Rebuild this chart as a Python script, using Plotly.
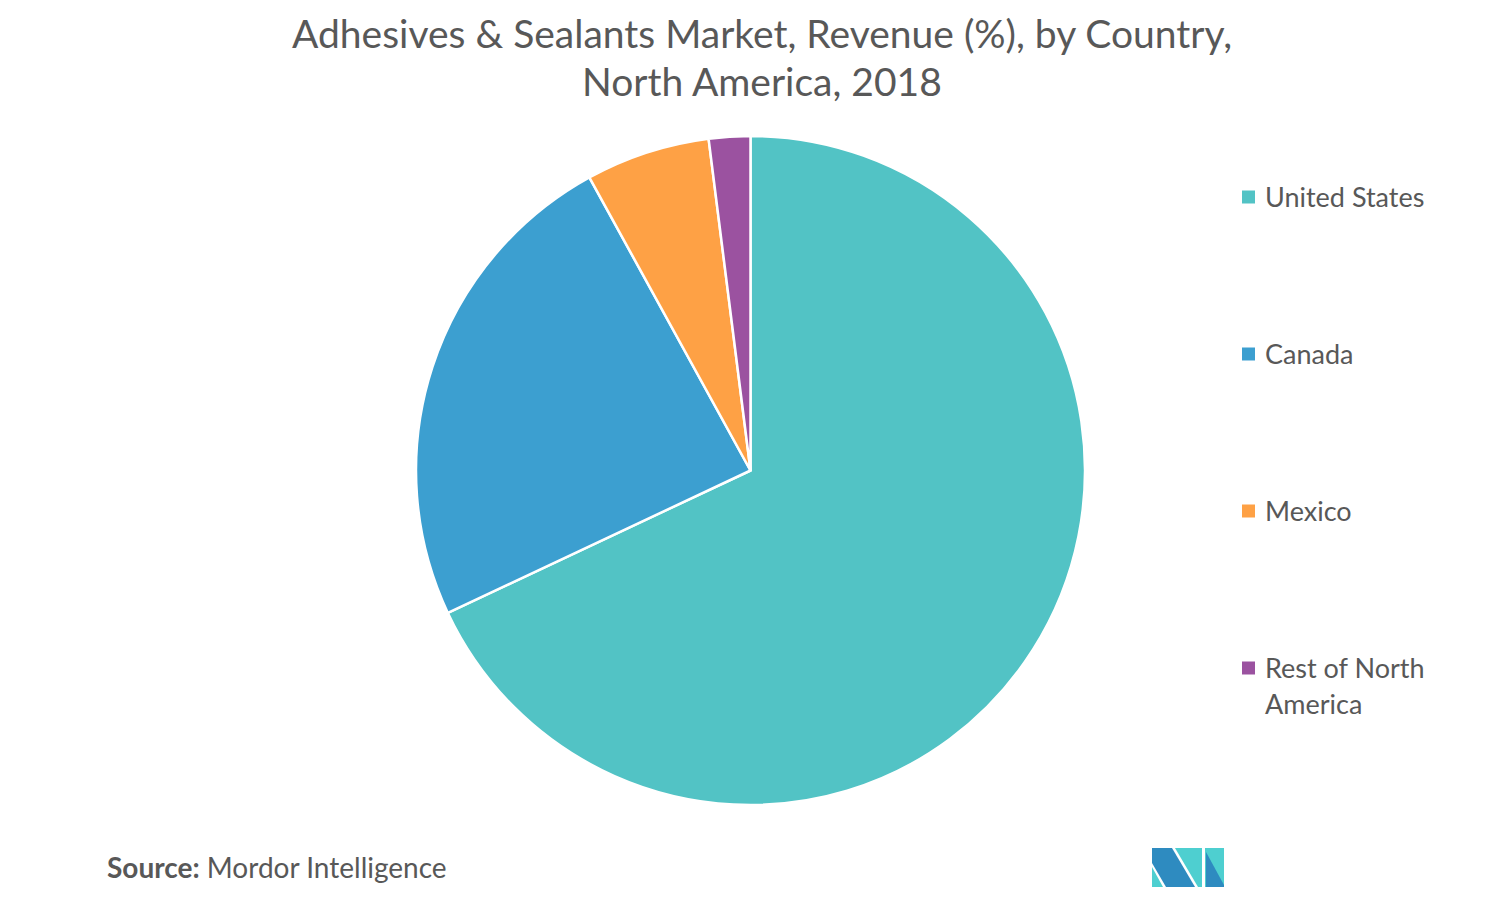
import plotly.graph_objects as go

W, H = 1489, 902
OFF = 8  # page body margin offset

labels = ["United States", "Canada", "Mexico", "Rest of North America"]
legend_lines = [["United States"], ["Canada"], ["Mexico"], ["Rest of North", "America"]]
values = [68, 24, 6, 2]
colors = ["#52C3C5", "#3C9FD0", "#FEA145", "#9B52A0"]

title_lines = ["Adhesives & Sealants Market, Revenue (%), by Country,", "North America, 2018"]

FONT = "Lato"
GRAY = "#585858"


def px(x):
    return (x - OFF) / W


def py(y):
    return 1 - (y - OFF) / H


cx, cy, r = 750.5, 470.5, 334.5

fig = go.Figure(go.Pie(
    labels=labels,
    values=values,
    marker=dict(colors=colors, line=dict(color="white", width=2.5)),
    sort=False,
    direction="clockwise",
    rotation=0,
    textinfo="none",
    hoverinfo="label+percent",
    showlegend=False,
    domain=dict(x=[px(cx - r), px(cx + r)], y=[py(cy + r), py(cy - r)]),
))

annotations = []
shapes = []

# Title
for i, t in enumerate(title_lines):
    annotations.append(dict(
        x=px(762), y=py(33 + i * 48), xref="paper", yref="paper",
        text=t, showarrow=False, xanchor="center", yanchor="middle",
        font=dict(family=FONT, size=39, color=GRAY),
    ))

# Legend
leg_y = [196, 353, 510, 667]
for lines, col, yy in zip(legend_lines, colors, leg_y):
    shapes.append(dict(type="rect", xref="paper", yref="paper",
                       x0=px(1242), x1=px(1255), y0=py(yy - 5.5), y1=py(yy + 7.5),
                       fillcolor=col, line=dict(width=0)))
    for j, ln in enumerate(lines):
        annotations.append(dict(
            x=px(1263), y=py(yy + j * 36), xref="paper", yref="paper",
            text=ln, showarrow=False, xanchor="left", yanchor="middle",
            font=dict(family=FONT, size=27, color=GRAY),
        ))

# Source
annotations.append(dict(
    x=px(105), y=py(867), xref="paper", yref="paper",
    text="<b>Source:</b> Mordor Intelligence", showarrow=False,
    xanchor="left", yanchor="middle",
    font=dict(family=FONT, size=28, color=GRAY),
))

# Logo
DB, TL = "#2E8BC0", "#4ECFD0"


def poly(pts, color):
    d = "M " + " L ".join(f"{px(x)},{py(y)}" for x, y in pts) + " Z"
    shapes.append(dict(type="path", xref="paper", yref="paper", path=d,
                       fillcolor=color, line=dict(width=0)))


poly([(1152, 867), (1152, 887), (1163, 887)], TL)
poly([(1152, 848), (1172, 848), (1195, 887), (1166, 887), (1152, 863)], DB)
poly([(1175, 848), (1202, 848), (1202, 887), (1198, 887)], TL)
poly([(1205, 848), (1224, 848), (1224, 887), (1205, 887)], TL)
poly([(1206, 852), (1224, 885), (1224, 887), (1206, 887)], DB)

fig.update_layout(
    width=W, height=H,
    margin=dict(l=0, r=0, t=0, b=0),
    paper_bgcolor="white",
    plot_bgcolor="white",
    annotations=annotations,
    shapes=shapes,
)

fig.write_html("out.html")
